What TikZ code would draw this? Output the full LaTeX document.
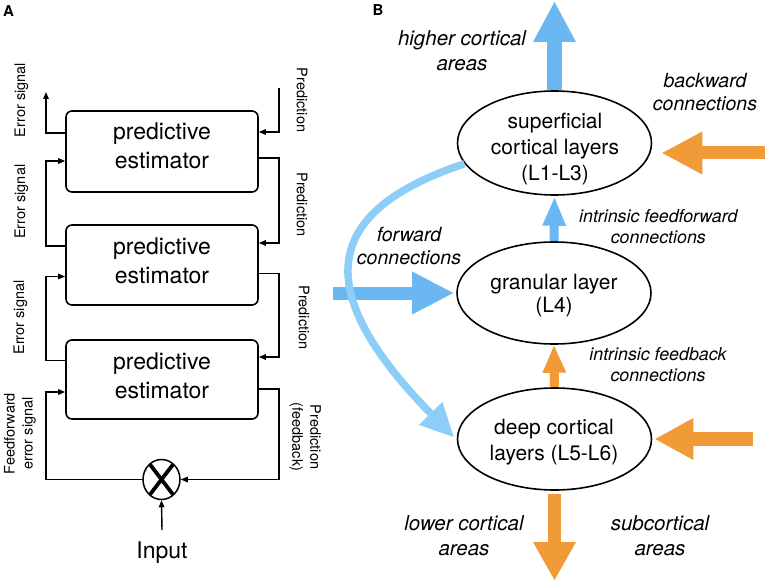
\documentclass[tikz,border=0pt]{standalone}
\usepackage{fontspec}
\setmainfont{TeX Gyre Heros}
\usetikzlibrary{arrows.meta,shapes.geometric,calc}
\definecolor{cblue}{RGB}{106,183,242}
\definecolor{cblueL}{RGB}{140,206,248}
\definecolor{corange}{RGB}{240,154,56}
\begin{document}
\begin{tikzpicture}[x=1pt,y=-1pt,
  box/.style={draw, line width=1.6pt, rounded corners=6pt, minimum width=192pt, minimum height=80pt, inner sep=0pt},
  boxtext/.style={font=\fontsize{23}{29}\selectfont, align=center, inner sep=0pt},
  sig/.style={line width=1.4pt, -{Triangle[length=7pt,width=5.5pt]}},
  rlab/.style={font=\fontsize{14.5}{18}\selectfont, align=center, inner sep=0pt},
  layer/.style={draw, ellipse, line width=1.6pt, minimum width=194pt, minimum height=104pt, inner sep=0pt},
  ltext/.style={font=\fontsize{21}{26}\selectfont, align=center, inner sep=0pt},
  itl/.style={align=center, inner sep=0pt},
  blk/.style n args={3}{line width=#1, -{Triangle[length=#2, width=#3, line width=0pt]}},
  panel/.style={font=\bfseries\fontsize{15}{15}\selectfont, inner sep=0pt}
]
\useasboundingbox (0,0) rectangle (765,585);

% ---------------- Panel A ----------------
\node[panel] (A) at (8.5,11.5) {A};

\node[box, minimum height=81pt] (b1) at (162,151.5) {};
\node[box] (b2) at (162,265) {};
\node[box, minimum height=79pt] (b3) at (162,379.5) {};
\node[boxtext] (t1) at (162,145.5) {predictive\\estimator};
\node[boxtext] (t2) at (162,260.3) {predictive\\estimator};
\node[boxtext] (t3) at (162,375.3) {predictive\\estimator};

% mixer
\coordinate (mixc) at (161.5,479.5);
\begin{scope}
  \clip (mixc) ellipse [x radius=18pt, y radius=19.5pt];
  \draw[line width=3.8pt] ($(mixc)+(-13,-17)$) -- ($(mixc)+(13,17)$);
  \draw[line width=3.8pt] ($(mixc)+(13,-17)$) -- ($(mixc)+(-13,17)$);
\end{scope}
\node[draw, ellipse, line width=1.5pt, minimum width=37pt, minimum height=40pt, inner sep=0pt] (mix) at (mixc) {};

\node[font=\fontsize{23}{28}\selectfont, inner sep=0pt, anchor=base] (inp) at (162,558) {Input};
\draw[sig] ($(inp.north)+(0,-11)$) -- (mix.south);

% connector anchor points
\coordinate (Lx) at (46,0);
\coordinate (Rx) at (279,0);
\coordinate (eo) at (46,92);
\coordinate (pin) at (279,88);
\coordinate (b1lo) at ($(b1.west)+(0,-18.5)$);
\coordinate (b1li) at ($(b1.west)+(0,9.5)$);
\coordinate (b1ri) at ($(b1.east)+(0,-19.5)$);
\coordinate (b1ro) at ($(b1.east)+(0,6.5)$);
\coordinate (b2lo) at ($(b2.west)+(0,-19)$);
\coordinate (b2li) at ($(b2.west)+(0,11.5)$);
\coordinate (b2ri) at ($(b2.east)+(0,-22)$);
\coordinate (b2ro) at ($(b2.east)+(0,8.3)$);
\coordinate (b3lo) at ($(b3.west)+(0,-18.8)$);
\coordinate (b3li) at ($(b3.west)+(0,12.5)$);
\coordinate (b3ri) at ($(b3.east)+(0,-22.5)$);
\coordinate (b3ro) at ($(b3.east)+(0,9.5)$);

% left (error) side
\draw[sig] (b1lo) -- (b1lo -| Lx) -- (eo);
\draw[sig] (b2lo) -- (b2lo -| Lx) -- (b1li -| Lx) -- (b1li);
\draw[sig] (b3lo) -- (b3lo -| Lx) -- (b2li -| Lx) -- (b2li);
\draw[sig] (mix.west) -- (mix.west -| Lx) -- (b3li -| Lx) -- (b3li);
% right (prediction) side
\draw[sig] (pin) -- (b1ri -| Rx) -- (b1ri);
\draw[sig] (b1ro) -- (b1ro -| Rx) -- (b2ri -| Rx) -- (b2ri);
\draw[sig] (b2ro) -- (b2ro -| Rx) -- (b3ri -| Rx) -- (b3ri);
\draw[sig] (b3ro) -- (b3ro -| Rx) -- (mix.east -| Rx) -- (mix.east);

% rotated labels
\node[rlab, rotate=90] (e1) at (21.5,100) {Error signal};
\node[rlab, rotate=90] (e2) at (21.5,201.7) {Error signal};
\node[rlab, rotate=90] (e3) at (20.5,317.5) {Error signal};
\node[rlab, rotate=90] (ff) at (20,433.5) {Feedforward\\error signal};
\node[rlab, rotate=-90] (p1) at (302,100) {Prediction};
\node[rlab, rotate=-90] (p2) at (302,204.5) {Prediction};
\node[rlab, rotate=-90] (p3) at (304,317.5) {Prediction};
\node[rlab, rotate=-90] (pf) at (305,437) {Prediction\\(feedback)};

% ---------------- Panel B ----------------
\node[panel] (B) at (378,10) {B};

\node[layer] (sup) at (554.5,143) {};
\node[layer, minimum height=102pt] (gran) at (554,293) {};
\node[layer, minimum height=102pt] (deep) at (554.5,439) {};
\node[ltext] (supt) at (555,148.7) {superficial\\cortical layers\\(L1-L3)};
\node[ltext, font=\fontsize{21}{23.4}\selectfont] (grant) at (554,295.7) {granular layer\\(L4)};
\node[ltext] (deept) at (554,441.7) {deep cortical\\layers (L5-L6)};

\coordinate (upE) at (554.5,2);
\coordinate (fwS) at (333,293);
\coordinate (bk1) at (765,153);
\coordinate (bk2) at (753,439);
\coordinate (dnE) at (554.5,580);

\draw[cblue, blk={15pt}{40pt}{43pt}] (sup.north) -- (upE);
\draw[cblue, blk={9pt}{28pt}{24pt}] (gran.north) -- ($(sup.south)+(0,2)$);
\draw[cblue, blk={13pt}{41pt}{43pt}] (fwS) -- ($(gran.west)+(-3,0)$);
\draw[corange, blk={13pt}{40pt}{43pt}] (bk1) -- ($(sup.east)+(10,10)$);
\draw[corange, blk={14pt}{38pt}{42pt}] (bk2) -- ($(deep.east)+(3,0)$);
\draw[corange, blk={9pt}{27pt}{24pt}] (deep.north) -- ($(gran.south)+(0,1)$);
\draw[corange, blk={13pt}{38pt}{43pt}] ($(deep.south)+(0,3)$) -- (dnE);

\draw[cblueL, line width=7.5pt, -{Triangle[length=33pt,width=33pt,line width=0pt]}]
  (sup.193) .. controls (310,215) and (320,300) .. ($(deep.west)+(-3,-2)$);

% italic labels
\node[itl, font=\itshape\fontsize{20.5}{25}\selectfont] (hi) at (462,50.6) {higher cortical\\areas};
\node[itl, font=\itshape\fontsize{19.5}{22.7}\selectfont] (bw) at (705,91.7) {backward\\connections};
\node[itl, font=\itshape\fontsize{19.5}{23.3}\selectfont] (fw) at (409,246.3) {forward\\connections};
\node[itl, font=\itshape\fontsize{17.8}{20.6}\selectfont] (iff) at (658.3,226.6) {intrinsic feedforward\\connections};
\node[itl, font=\itshape\fontsize{17.8}{21}\selectfont] (ifb) at (658,364.8) {intrinsic feedback\\connections};
\node[itl, font=\itshape\fontsize{20.5}{25}\selectfont] (lo) at (464,535.2) {lower cortical\\areas};
\node[itl, font=\itshape\fontsize{20.5}{25}\selectfont] (sub) at (660,535.2) {subcortical\\areas};
\end{tikzpicture}
\end{document}
